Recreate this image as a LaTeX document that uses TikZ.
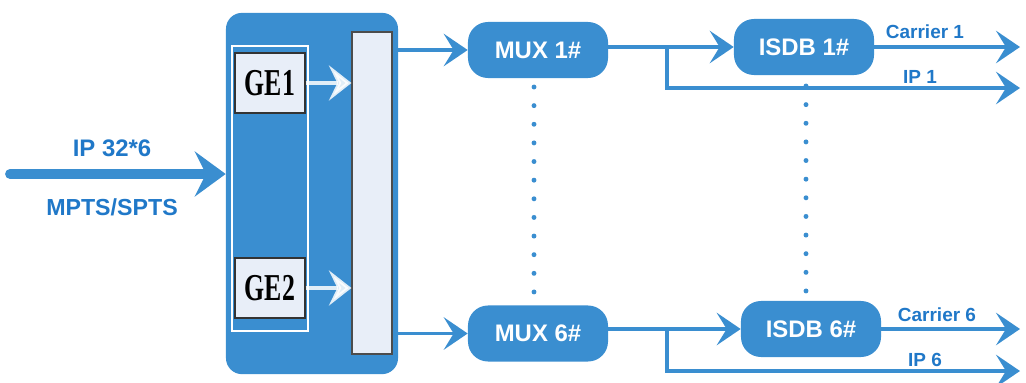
\documentclass[tikz,border=0pt]{standalone}
\usepackage{fontspec}
\usepackage{graphicx}
\setmainfont{Liberation Serif}
\setsansfont{Liberation Sans}
\usetikzlibrary{arrows.meta}
\definecolor{boxblue}{RGB}{58,142,208}
\definecolor{textblue}{RGB}{32,120,200}
\definecolor{barfill}{RGB}{232,238,248}

\begin{document}
\begin{tikzpicture}[x=0.025cm,y=-0.025cm,
	blockName/.style={fill=boxblue,text=white,rounded corners=0.5cm,minimum width=3.5cm,minimum height=1.4cm,inner sep=0pt,font=\sffamily\bfseries\fontsize{17}{17}\selectfont},
	portName/.style={fill=barfill,draw=black!80,line width=0.8pt,minimum width=1.75cm,minimum height=1.5cm,inner sep=0pt,font=\bfseries\fontsize{27}{27}\selectfont},
	labelName/.style={text=textblue,inner sep=0pt,font=\sffamily\bfseries\fontsize{13.5}{13.5}\selectfont},
	feed/.style={draw=boxblue,line width=2.8pt,-{Stealth[length=17pt,width=23pt,inset=7pt]}},
	dots/.style={draw=boxblue,line width=3.5pt,line cap=round,dash pattern=on 0pt off 13.25pt}]
\useasboundingbox (0,0) rectangle (1026,382);
	% device with the two GE ports
	\node (device) at (312,193.5) [fill=boxblue,rounded corners=0.4cm,minimum width=4.3cm,minimum height=9.03cm] {};
	\node (frame) at (270,188.5) [draw=white,line width=0.8pt,minimum width=1.9cm,minimum height=7.125cm] {};
	\node[portName] (ge1) at (270,83) {\scalebox{0.68}[1]{GE1}};
	\node[portName] (ge2) at (270,288) {\scalebox{0.68}[1]{GE2}};
	\node (bar) at (372,193) [fill=barfill,draw=black!70,line width=0.8pt,minimum width=1cm,minimum height=8.05cm,inner sep=0pt] {};
	\draw[white,opacity=0.85,line width=2.8pt,-{Stealth[length=16pt,width=25pt,inset=6pt]}]
		(node cs:name=ge1,anchor=east) -- (ge1.east -| bar.west);
	\draw[white,opacity=0.85,line width=2.8pt,-{Stealth[length=16pt,width=25pt,inset=6pt]}]
		(node cs:name=ge2,anchor=east) -- (ge2.east -| bar.west);
	% input
	\coordinate (src) at (10,174);
	\draw[boxblue,line width=7pt,line cap=round,-{Stealth[length=22pt,width=32pt,inset=8pt]}]
		(src) -- (device.west |- src);
	\node[labelName,font=\sffamily\bfseries\fontsize{17}{17}\selectfont] (inTop) at (112,148) {IP 32*6};
	\node[labelName,font=\sffamily\bfseries\fontsize{16.5}{16.5}\selectfont] (inBottom) at (112,207) {MPTS/SPTS};
	% multiplexers and modulators
	\node[blockName] (mux1) at (538,50) {MUX 1\#};
	\node[blockName] (mux6) at (538,333.5) {MUX 6\#};
	\node[blockName] (isdb1) at (804,47) {ISDB 1\#};
	\node[blockName] (isdb6) at (811,329) {ISDB 6\#};
	\coordinate (split1) at (667,47);
	\coordinate (split6) at (667,329);
	\coordinate (carrierEnd1) at (1020,47);
	\coordinate (carrierEnd6) at (1020,329);
	\coordinate (ipEnd1) at (1020,88);
	\coordinate (ipEnd6) at (1020,371);
	\draw[dots] (534,87) -- (534,294);
	\draw[dots] (806,86) -- (806,293);
	\draw[feed] (bar.east |- mux1.west) -- (node cs:name=mux1,anchor=west);
	\draw[feed] (bar.east |- mux6.west) -- (node cs:name=mux6,anchor=west);
	\draw[feed] (mux1.east |- isdb1.west) -- (node cs:name=isdb1,anchor=west);
	\draw[feed] (mux6.east |- isdb6.west) -- (node cs:name=isdb6,anchor=west);
	\draw[feed] (node cs:name=isdb1,anchor=east) -- (carrierEnd1);
	\draw[feed] (node cs:name=isdb6,anchor=east) -- (carrierEnd6);
	\draw[feed] (split1) |- (ipEnd1);
	\draw[feed] (split6) |- (ipEnd6);
	\node[labelName] (carrier1) at (925,32) {Carrier 1};
	\node[labelName] (ip1) at (920,77) {IP 1};
	\node[labelName] (carrier6) at (937,315) {Carrier 6};
	\node[labelName] (ip6) at (925,360) {IP 6};
\end{tikzpicture}
\end{document}
